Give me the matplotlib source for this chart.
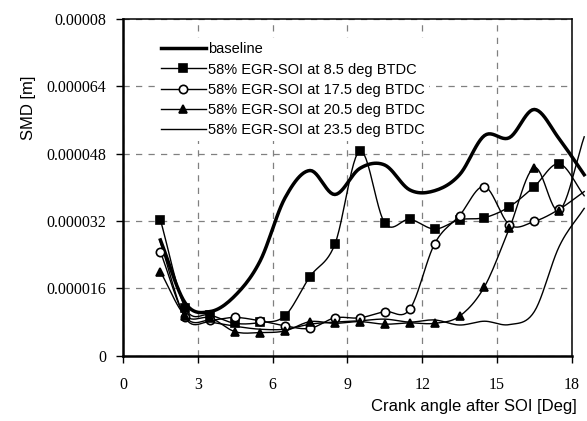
import numpy as np
import matplotlib
matplotlib.use('Agg')
import matplotlib.pyplot as plt

# crank angle after SOI [deg] and SMD values in micrometres
crank = [1.5, 2.5, 3.5, 4.5, 5.5, 6.5, 7.5, 8.5, 9.5, 10.5, 11.5, 12.5, 13.5, 14.5, 15.5, 16.5, 17.5, 18.5]
baseline = [27.5, 12.5, 10.5, 14.3, 22.5, 37.5, 44.0, 38.3, 44.5, 45.3, 39.4, 39.2, 43.0, 52.3, 51.8, 58.5, 51.5, 43.0]
soi_8_5 = [32.3, 11.3, 9.7, 7.7, 7.9, 9.5, 18.8, 26.5, 48.7, 31.5, 32.4, 30.1, 32.3, 32.8, 35.4, 40.2, 45.6, 38.0]
soi_17_5 = [24.7, 9.3, 8.5, 9.1, 8.3, 7.1, 6.5, 9.0, 9.0, 10.5, 11.0, 26.6, 33.3, 40.2, 31.1, 31.9, 34.8, 39.0]
soi_20_5 = [20.0, 9.5, 9.0, 5.7, 5.5, 5.9, 8.1, 7.7, 8.1, 7.5, 7.8, 7.7, 9.4, 16.4, 30.3, 44.7, 34.5, 52.0]
soi_23_5 = [27.0, 9.0, 8.0, 7.0, 6.3, 6.3, 7.5, 8.0, 8.3, 8.7, 8.0, 8.5, 7.3, 8.2, 7.4, 10.5, 26.0, 35.0]

labels = ['baseline',
          '58% EGR-SOI at 8.5 deg BTDC',
          '58% EGR-SOI at 17.5 deg BTDC',
          '58% EGR-SOI at 20.5 deg BTDC',
          '58% EGR-SOI at 23.5 deg BTDC']

xticks = [0, 3, 6, 9, 12, 15, 18]
yticks = [0, 16, 32, 48, 64, 80]
ytick_labels = ['0', '0.000016', '0.000032', '0.000048', '0.000064', '0.00008']


def smooth(x, y, n=12):
    # Excel-like smoothed line (Catmull-Rom through the points)
    x = np.asarray(x, float)
    y = np.asarray(y, float)
    px = np.concatenate([[2 * x[0] - x[1]], x, [2 * x[-1] - x[-2]]])
    py = np.concatenate([[2 * y[0] - y[1]], y, [2 * y[-1] - y[-2]]])
    t = np.linspace(0, 1, n, endpoint=False)
    ox, oy = [], []
    for i in range(1, len(px) - 2):
        for p, o in ((px, ox), (py, oy)):
            p0, p1, p2, p3 = p[i - 1], p[i], p[i + 1], p[i + 2]
            o.extend(0.5 * (2 * p1 + (-p0 + p2) * t + (2 * p0 - 5 * p1 + 4 * p2 - p3) * t ** 2
                            + (-p0 + 3 * p1 - 3 * p2 + p3) * t ** 3))
    ox.append(x[-1])
    oy.append(y[-1])
    return np.array(ox), np.array(oy)


fig = plt.figure(figsize=(5.87, 4.21), dpi=100)
ax = fig.add_axes([0.2095, 0.155, 0.7645, 0.80])

series = [
    (baseline, dict(lw=2.5, marker=None)),
    (soi_8_5, dict(lw=1.0, marker='s', mfc='black')),
    (soi_17_5, dict(lw=1.0, marker='o', mfc='white')),
    (soi_20_5, dict(lw=1.0, marker='^', mfc='black')),
    (soi_23_5, dict(lw=1.0, marker=None)),
]

handles = []
for vals, st in series:
    sx, sy = smooth(crank, vals)
    ax.plot(sx, sy * 1e-6, color='black', lw=st['lw'], clip_on=False, zorder=3)
    # markers at the data points (the point past 18 is outside the picture)
    if st['marker']:
        ax.plot(crank[:-1], np.array(vals[:-1]) * 1e-6, ls='none', marker=st['marker'],
                ms=6, mfc=st['mfc'], mec='black', mew=1.2, zorder=4)
    h, = ax.plot([], [], color='black', lw=st['lw'], marker=st['marker'],
                 ms=6, mfc=st.get('mfc', 'black'), mec='black', mew=1.2)
    handles.append(h)

ax.set_xlim(0, 18)
ax.set_ylim(0, 80e-6)
ax.set_xticks(xticks)
ax.set_yticks(np.array(yticks) * 1e-6)
ax.set_yticklabels(ytick_labels)
ax.grid(True, color='#808080', ls=(0, (5, 5)), lw=0.9)
ax.set_axisbelow(True)

for lab in ax.get_xticklabels() + ax.get_yticklabels():
    lab.set_fontfamily('Liberation Serif')
    lab.set_fontsize(11.5)
ax.tick_params(axis='y', direction='out', length=5, width=1, pad=7)
ax.tick_params(axis='x', direction='out', length=5, width=1, pad=10)

for s in ['left', 'bottom']:
    ax.spines[s].set_linewidth(1.8)
for s in ['top', 'right']:
    ax.spines[s].set_linewidth(1.1)

leg = ax.legend(handles, labels, loc='upper left', bbox_to_anchor=(0.058, 0.965),
                frameon=True, facecolor='white', edgecolor='none', framealpha=1,
                fancybox=False, handlelength=3.1, handletextpad=0.15, labelspacing=0.42,
                borderpad=0.3, prop={'family': 'Liberation Sans', 'size': 10.5})
leg.set_zorder(5)

fig.text(0.048, 0.745, 'SMD [m]', rotation=90, ha='center', va='center',
         family='Liberation Sans', fontsize=12)
fig.text(0.983, 0.034, 'Crank angle after SOI [Deg]', ha='right', va='center',
         family='Liberation Sans', fontsize=12)

fig.savefig('out.png', dpi=100)
